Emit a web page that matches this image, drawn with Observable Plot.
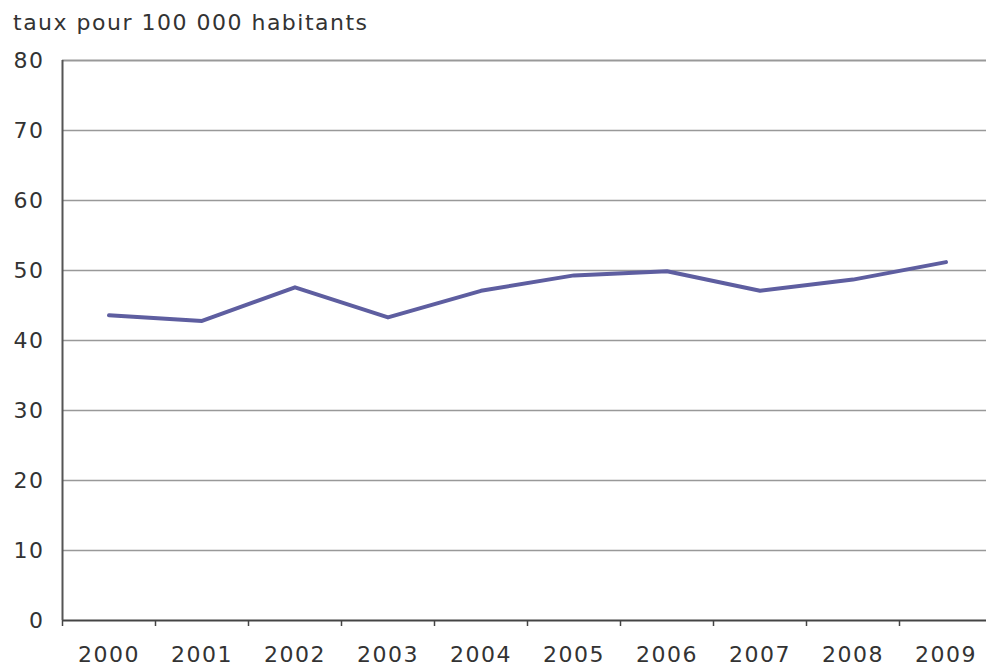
<!DOCTYPE html>
<html>
<head>
<meta charset="utf-8">
<script src="https://cdn.jsdelivr.net/npm/d3@7"></script>
<script src="https://cdn.jsdelivr.net/npm/@observablehq/plot@0.6"></script>
<style>
  body { margin: 0; background: #fff; }
  #title {
    height: 40px;
    line-height: 46px;
    padding-left: 13px;
    font-family: "DejaVu Sans", Verdana, sans-serif;
    font-size: 22px;
    letter-spacing: 1.5px;
    color: #333;
    white-space: nowrap;
  }
  #chart svg { display: block; }
</style>
</head>
<body>
<div id="title"></div>
<div id="chart"></div>
<script>
// Taux annuel pour 100 000 habitants, 2000-2009
const years = [2000, 2001, 2002, 2003, 2004, 2005, 2006, 2007, 2008, 2009];
const rates = [43.6, 42.8, 47.6, 43.3, 47.1, 49.3, 49.9, 47.1, 48.7, 51.2];
const yTicks = [0, 10, 20, 30, 40, 50, 60, 70, 80];
const gridValues = [10, 20, 30, 40, 50, 60, 70];
const titleText = "taux pour 100 000 habitants";

document.getElementById("title").textContent = titleText;

const data = years.map((year, i) => ({year, rate: rates[i]}));
// tick marks sit between the years, on the category boundaries
const boundaries = years.map(y => y - 0.5);

const chart = Plot.plot({
  width: 986,
  height: 626,
  marginTop: 20,
  marginBottom: 46,
  marginLeft: 62,
  marginRight: 0,
  style: {
    fontFamily: "DejaVu Sans, Verdana, sans-serif",
    fontSize: "22px",
    letterSpacing: "1.5px",
    color: "#333",
    background: "#fff"
  },
  x: {type: "linear", domain: [1999.5, 2009.5], range: [62, 992]},
  y: {domain: [0, 80]},
  marks: [
    Plot.ruleY(gridValues, {stroke: "#999", strokeWidth: 1.5}),
    Plot.ruleY([80], {stroke: "#999", strokeWidth: 2}),
    Plot.ruleY([0], {stroke: "#444", strokeWidth: 2}),
    Plot.ruleX([1999.5], {stroke: "#555", strokeWidth: 2}),
    Plot.axisX(boundaries, {tickSize: 6, tickFormat: () => "", stroke: "#444", strokeWidth: 1.5, label: null}),
    Plot.axisX(years, {tickSize: 0, tickPadding: 26, tickFormat: "d", label: null}),
    Plot.axisY(yTicks, {tickSize: 0, tickPadding: 18, label: null}),
    Plot.line(data, {x: "year", y: "rate", stroke: "#5e5ea0", strokeWidth: 4, strokeLinejoin: "round", strokeLinecap: "round"})
  ]
});

document.getElementById("chart").appendChild(chart);
</script>
</body>
</html>
